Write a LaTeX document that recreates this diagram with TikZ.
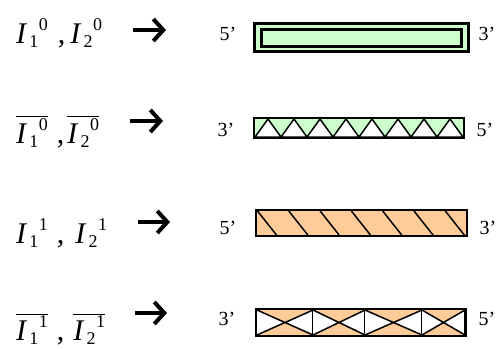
\documentclass[tikz,border=0pt]{standalone}
\usepackage{fontspec}
\setmainfont{Liberation Serif}
\usetikzlibrary{arrows.meta}

\definecolor{strandgreen}{RGB}{204,255,204}
\definecolor{strandorange}{RGB}{255,204,153}

% I with sub- and superscript set one after the other
\newcommand{\scriptdigit}[1]{{\fontsize{18}{18}\selectfont #1}}
\newcommand{\Ivar}[2]{\textit{I}\kern2pt\raisebox{-4pt}{\scriptdigit{#1}}\kern0.5pt\raisebox{13pt}{\scriptdigit{#2}}}
\newcommand{\Ibar}[2]{$\overline{\hbox{\Ivar{#1}{#2}}}$}

\tikzset{
    term/.style={anchor=base west, inner sep=0pt, font=\fontsize{30}{32}\selectfont},
    prime/.style={anchor=base, inner sep=0pt, font=\fontsize{20}{22}\selectfont},
    maparrow/.style={line width=4pt, -{Straight Barb[length=10pt, width=22pt]}},
    strandbox/.style={rectangle, inner sep=0pt, line width=2pt},
}

\begin{document}
\begin{tikzpicture}[x=1pt, y=-1pt]
    \useasboundingbox (0,0) rectangle (502,348);

    % Draw terms
    \node[term] (t1) at (16,43) {\Ivar{1}{0}\hspace{10pt},\hspace{5pt}\Ivar{2}{0}};
    \node[term] (t2) at (16,143) {\Ibar{1}{0}\hspace{9pt},\hspace{3pt}\Ibar{2}{0}};
    \node[term] (t3) at (16,243) {\Ivar{1}{1}\hspace{9pt},\hspace{11pt}\Ivar{2}{1}};
    \node[term] (t4) at (16,340) {\Ibar{1}{1}\hspace{9pt},\hspace{9pt}\Ibar{2}{1}};

    % Draw arrows
    \coordinate (a1s) at (133,30);  \coordinate (a1e) at (166,30);
    \coordinate (a2s) at (130,121); \coordinate (a2e) at (163,121);
    \coordinate (a3s) at (138,222); \coordinate (a3e) at (170,222);
    \coordinate (a4s) at (135,313); \coordinate (a4e) at (167,313);
    \draw[maparrow] (a1s) -- (a1e);
    \draw[maparrow] (a2s) -- (a2e);
    \draw[maparrow] (a3s) -- (a3e);
    \draw[maparrow] (a4s) -- (a4e);

    % Draw strands
    \node[strandbox, draw, line width=3pt, fill=strandgreen, minimum width=214pt, minimum height=28pt] (s1) at (361.5,37.5) {};
    \node[strandbox, draw, line width=3pt, minimum width=200pt, minimum height=17pt] (s1in) at (s1) {};

    \node[strandbox, fill=strandgreen, minimum width=208pt, minimum height=18pt] (s2) at (359,128) {};
    \foreach \k in {0,...,7}
        \filldraw[fill=white, line width=1.5pt, line join=round] (255+26*\k,137) -- (268+26*\k,119) -- (281+26*\k,137) -- cycle;
    \draw[line width=2pt] (s2.south west) rectangle (s2.north east);

    \node[strandbox, fill=strandorange, minimum width=209pt, minimum height=24pt] (s3) at (361.5,223) {};
    \foreach \k in {0,...,6}
        \draw[line width=1.5pt] (257.5+31.3*\k,211) -- (276.5+31.3*\k,235);
    \draw[line width=2pt] (s3.south west) rectangle (s3.north east);

    \node[strandbox, fill=strandorange, minimum width=208pt, minimum height=25pt] (s4) at (361,322.5) {};
    \foreach \a/\b in {257/313, 313/365, 365/422, 422/465} {
        \fill[white] (\a,310) -- ({(\a+\b)/2},322.5) -- (\a,335) -- cycle;
        \fill[white] (\b,310) -- ({(\a+\b)/2},322.5) -- (\b,335) -- cycle;
        \draw[line width=1.5pt] (\a,310) -- (\b,335) (\a,335) -- (\b,310);
        \draw[line width=2pt] (\b,310) -- (\b,335);
    }
    \draw[line width=2pt] (s4.south west) rectangle (s4.north east);

    % Labels
    \node[prime] (l1) at (228,40) {5’};
    \node[prime] (r1) at (487,40) {3’};
    \node[prime] (l2) at (226,136) {3’};
    \node[prime] (r2) at (485,136) {5’};
    \node[prime] (l3) at (228,234) {5’};
    \node[prime] (r3) at (488,234) {3’};
    \node[prime] (l4) at (227,325) {3’};
    \node[prime] (r4) at (487,325) {5’};
\end{tikzpicture}
\end{document}
